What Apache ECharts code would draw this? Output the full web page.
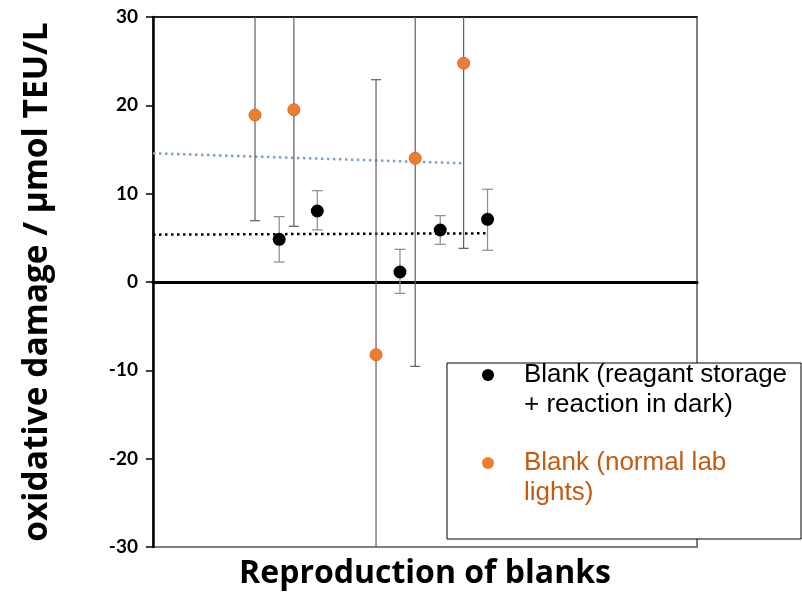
<!DOCTYPE html>
<html>
<head>
<meta charset="utf-8">
<script src="https://cdn.jsdelivr.net/npm/echarts@6/dist/echarts.min.js"></script>
<style>
  html, body { margin: 0; padding: 0; background: #fff; }
  #chart { width: 802px; height: 595px; }
</style>
</head>
<body>
<div id="chart"></div>
<script>
  // position of each run along the (unlabelled) x axis, 0..100
  let darkX = [23.2, 30.2, 45.4, 52.8, 61.5]
  let darkY = [4.83, 8.04, 1.13, 5.89, 7.1]
  let darkLow = [2.26, 5.9, -1.28, 4.27, 3.59]
  let darkHigh = [7.4, 10.34, 3.7, 7.51, 10.5]

  let lightX = [18.75, 25.9, 41.0, 48.2, 57.1]
  let lightY = [18.9, 19.5, -8.23, 14.0, 24.77]
  let lightLow = [6.94, 6.3, -39.4, -9.55, 3.81]
  let lightHigh = [30.9, 32.7, 22.9, 37.6, 45.7]

  // linear trendlines, start and end
  let darkTrendX = [0, 61.5]
  let darkTrendY = [5.36, 5.51]
  let lightTrendX = [0, 57.1]
  let lightTrendY = [14.57, 13.44]

  let yTicks = [-30, -20, -10, 0, 10, 20, 30]

  let darkName = 'Blank (reagant storage\n+ reaction in dark)'
  let lightName = 'Blank (normal lab\nlights)'

  let zip = (a, b) => a.map((v, i) => [v, b[i]])
  let zip3 = (a, b, c) => a.map((v, i) => [v, b[i], c[i]])

  // vertical error bar with caps, clipped to the grid
  function errorBar(capWidth, color) {
    return function (params, api) {
      let x = api.value(0)
      let hi = api.coord([x, api.value(2)])
      let lo = api.coord([x, api.value(1)])
      let h = capWidth / 2
      let style = { stroke: color, lineWidth: 1.2 }
      return {
        type: 'group',
        children: [
          { type: 'line', shape: { x1: hi[0], y1: hi[1], x2: lo[0], y2: lo[1] }, style: style },
          { type: 'line', shape: { x1: hi[0] - h, y1: hi[1], x2: hi[0] + h, y2: hi[1] }, style: style },
          { type: 'line', shape: { x1: lo[0] - h, y1: lo[1], x2: lo[0] + h, y2: lo[1] }, style: style }
        ]
      }
    }
  }

  let myChart = echarts.init(document.getElementById('chart'))
  let option = {
    animation: false,
    grid: {
      left: 153,
      right: 105,
      top: 17,
      bottom: 48,
      show: true,
      borderColor: '#7f7f7f',
      borderWidth: 2
    },
    xAxis: [
      {
        type: 'value',
        min: 0,
        max: 100,
        axisLine: { onZero: true, lineStyle: { color: '#000', width: 3 } },
        axisTick: { show: false },
        axisLabel: { show: false },
        splitLine: { show: false }
      },
      {
        // top border line
        type: 'value',
        position: 'top',
        min: 0,
        max: 100,
        axisLine: { onZero: false, lineStyle: { color: '#000', width: 1.5 } },
        axisTick: { show: false },
        axisLabel: { show: false },
        splitLine: { show: false }
      }
    ],
    yAxis: {
      type: 'value',
      min: yTicks[0],
      max: yTicks[yTicks.length - 1],
      interval: yTicks[1] - yTicks[0],
      name: 'oxidative damage / µmol TEU/L',
      nameLocation: 'middle',
      nameGap: 99,
      nameTextStyle: { fontFamily: 'Open Sans', fontWeight: 'bold', fontSize: 33.5, color: '#000' },
      axisLine: { onZero: false, lineStyle: { color: '#000', width: 2.5 } },
      axisTick: { length: 7, lineStyle: { color: '#000', width: 1.5 } },
      axisLabel: { fontFamily: 'Lato', fontWeight: 'bold', fontSize: 19, color: '#000', margin: 15 },
      splitLine: { show: false }
    },
    series: [
      {
        type: 'line',
        data: zip(lightTrendX, lightTrendY),
        showSymbol: false,
        lineStyle: { color: '#7aa0cc', width: 2.5, type: [2.5, 3.5] },
        z: 1
      },
      {
        type: 'line',
        data: zip(darkTrendX, darkTrendY),
        showSymbol: false,
        lineStyle: { color: '#000', width: 2.5, type: [2.5, 3.5] },
        z: 1
      },
      {
        type: 'custom',
        renderItem: errorBar(10, '#5f5f5f'),
        data: zip3(lightX, lightLow, lightHigh),
        clip: true,
        z: 2
      },
      {
        type: 'custom',
        renderItem: errorBar(11, '#8c8c8c'),
        data: zip3(darkX, darkLow, darkHigh),
        clip: true,
        z: 2
      },
      {
        name: lightName,
        type: 'scatter',
        data: zip(lightX, lightY),
        symbolSize: 12,
        itemStyle: { color: '#ed7d31', borderColor: '#d9691f', borderWidth: 1, opacity: 1 },
        z: 3
      },
      {
        name: darkName,
        type: 'scatter',
        data: zip(darkX, darkY),
        symbolSize: 13,
        itemStyle: { color: '#000', opacity: 1 },
        z: 3
      }
    ],
    graphic: [
      {
        type: 'text',
        x: 425,
        y: 574,
        style: {
          text: 'Reproduction of blanks',
          fontFamily: 'Open Sans',
          fontWeight: 'bold',
          fontSize: 32,
          fill: '#000',
          align: 'center',
          verticalAlign: 'middle'
        }
      },
      // legend box
      {
        type: 'rect',
        shape: { x: 447, y: 363, width: 354, height: 176 },
        style: { fill: '#fff', stroke: '#000', lineWidth: 1 },
        z: 10
      },
      { type: 'circle', shape: { cx: 488, cy: 375, r: 6 }, style: { fill: '#000' }, z: 11 },
      {
        type: 'text',
        x: 524,
        y: 360,
        style: { text: darkName, fontFamily: 'Liberation Sans', fontSize: 26, lineHeight: 30, fill: '#000' },
        z: 11
      },
      { type: 'circle', shape: { cx: 488, cy: 463, r: 6 }, style: { fill: '#ed7d31' }, z: 11 },
      {
        type: 'text',
        x: 524,
        y: 448,
        style: { text: lightName, fontFamily: 'Liberation Sans', fontSize: 26, lineHeight: 30, fill: '#c55a11' },
        z: 11
      }
    ]
  }
  myChart.setOption(option)
</script>
</body>
</html>
